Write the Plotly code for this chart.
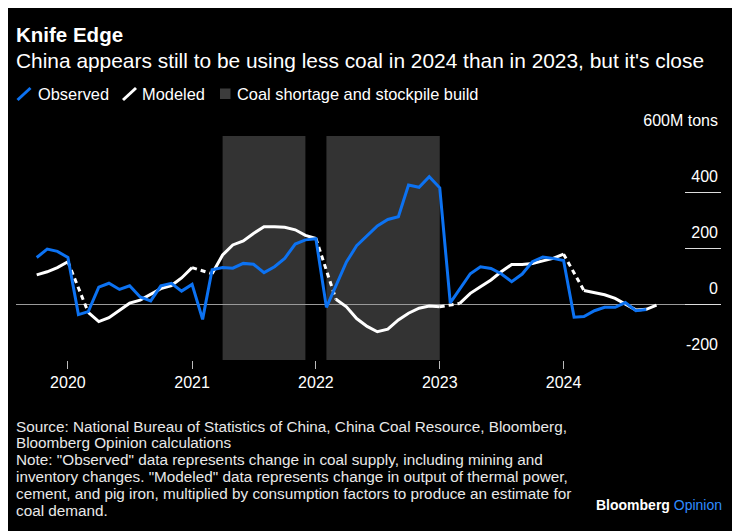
import plotly.graph_objects as go

# ---------------- data ----------------
months = [f"{y}-{m:02d}-01" for y in range(2019, 2025) for m in range(1, 13)]
months = [d for d in months if "2019-10-01" <= d <= "2024-10-01"]

observed = [
    166, 196, 188,                                                   # 2019 Oct-Dec
    166, -38, -27, 60, 74, 52, 65, 25, 11, 65, 74, 46,               # 2020
    70, -55, 122, 130, 128, 145, 142, 112, 133, 163, 214, 229,       # 2021
    233, -12, 65, 150, 208, 246, 279, 302, 312, 425, 417, 455,       # 2022
    415, 4, 55, 108, 133, 127, 108, 80, 107, 151, 168, 163,          # 2023
    155, -47, -45, -24, -12, -12, 5, -24, -20, None,                 # 2024
]

modeled = [
    104, 115, 130,
    151, None, -30, -63, -49, -22, 3, 14, 36, 55, 66, 93,
    130, None, 108, 175, 211, 225, 252, 276, 276, 274, 265, 245,
    234, None, 17, -10, -52, -80, -99, -90, -57, -33, -15, -7,
    -10, None, 2, 38, 62, 86, 115, 141, 141, 145, 154, 163,
    178, None, 48, 39, 33, 20, 1, -21, -19, -4,
]

year_ticks = ["2020-01-01", "2021-01-01", "2022-01-01", "2023-01-01", "2024-01-01"]
year_labels = ["2020", "2021", "2022", "2023", "2024"]
y_ticks = [-200, 0, 200, 400, 600]
y_labels = ["-200", "0", "200", "400", "600M tons"]

shortage_periods = [("2021-04-01", "2021-12-01"), ("2022-02-01", "2023-01-01")]

# dashed bridges across missing (February) modeled values
bridge_x, bridge_y = [], []
for i, v in enumerate(modeled):
    if v is None and 0 < i < len(modeled) - 1:
        bridge_x += [months[i - 1], months[i + 1], None]
        bridge_y += [modeled[i - 1], modeled[i + 1], None]

# ---------------- styling ----------------
BLUE = "#0c72f2"
WHITE = "#ffffff"
SHADE = "#333333"
FONT = "Liberation Sans, Arial, sans-serif"

OFF = 8                      # page body margin
W, H = 740 - OFF, 531 - OFF
L, R, T, B = 16 - OFF, 721 - OFF, 136 - OFF, 360 - OFF


def px(x):
    return (x - OFF - L) / (R - L)


def py(y):
    return (B - (y - OFF)) / (B - T)


fig = go.Figure()

fig.add_trace(go.Scatter(x=months, y=modeled, mode="lines",
                         line=dict(color=WHITE, width=3), connectgaps=False,
                         hoverinfo="skip", showlegend=False))
fig.add_trace(go.Scatter(x=bridge_x, y=bridge_y, mode="lines",
                         line=dict(color=WHITE, width=3, dash="5px,4px"),
                         hoverinfo="skip", showlegend=False))
fig.add_trace(go.Scatter(x=months, y=observed, mode="lines",
                         line=dict(color=BLUE, width=3),
                         hoverinfo="skip", showlegend=False))

shapes = []
for x0, x1 in shortage_periods:
    shapes.append(dict(type="rect", xref="x", yref="paper", x0=x0, x1=x1, y0=0, y1=1,
                       fillcolor=SHADE, line=dict(width=0), layer="below"))

# legend icons
shapes.append(dict(type="line", xref="paper", yref="paper",
                   x0=px(17.5), y0=py(100), x1=px(30.5), y1=py(88),
                   line=dict(color=BLUE, width=3)))
shapes.append(dict(type="line", xref="paper", yref="paper",
                   x0=px(123), y0=py(100), x1=px(136), y1=py(88),
                   line=dict(color=WHITE, width=3)))
shapes.append(dict(type="rect", xref="paper", yref="paper",
                   x0=px(220), y0=py(99), x1=px(230.5), y1=py(88.5),
                   fillcolor="#3c3c3c", line=dict(width=0)))

annotations = []


def text(x, y, s, size, color="#ffffff", xanchor="left", bold=False):
    annotations.append(dict(xref="paper", yref="paper", x=px(x), y=py(y), text=s,
                            showarrow=False, xanchor=xanchor, yanchor="middle",
                            align=xanchor,
                            font=dict(family=FONT, size=size, color=color,
                                      weight="bold" if bold else "normal")))


text(14, 35, "Knife Edge", 20.5, bold=True)
text(14, 60, "China appears still to be using less coal in 2024 than in 2023, but it's close", 20.9)
text(36, 94, "Observed", 16.4)
text(140, 94, "Modeled", 16.4)
text(235, 94, "Coal shortage and stockpile build", 16.4)

footer = [
    "Source: National Bureau of Statistics of China, China Coal Resource, Bloomberg,",
    "Bloomberg Opinion calculations",
    "Note: \"Observed\" data represents change in coal supply, including mining and",
    "inventory changes. \"Modeled\" data represents change in output of thermal power,",
    "cement, and pig iron, multiplied by consumption factors to produce an estimate for",
    "coal demand.",
]
for k, line in enumerate(footer):
    text(14, 426 + k * 16.8, line, 15.3, color="#e8e8e8")

text(724, 505, "<b>Bloomberg</b> <span style='color:#2f8cff'>Opinion</span>", 14,
     xanchor="right")

fig.update_layout(
    width=W, height=H,
    margin=dict(l=L, r=W - R, t=T, b=H - B, pad=0),
    paper_bgcolor="#000000", plot_bgcolor="#000000",
    font=dict(family=FONT, color="#ffffff", size=16),
    shapes=shapes, annotations=annotations,
    showlegend=False,
    xaxis=dict(type="date", range=["2019-08-01", "2025-04-09"],
               tickmode="array", tickvals=year_ticks, ticktext=year_labels,
               ticks="outside", ticklen=8, tickwidth=1, tickcolor="#bbbbbb",
               showgrid=False, zeroline=False, showline=False,
               tickfont=dict(size=16, color="#ffffff"), ticklabelstandoff=0),
    yaxis=dict(range=[-200, 600], side="right",
               tickmode="array", tickvals=y_ticks, ticktext=y_labels,
               ticks="inside", ticklen=36, tickwidth=1, tickcolor="#dddddd",
               ticklabelposition="inside top", ticklabeloverflow="allow",
               ticklabelshift=-4,
               showgrid=False, zeroline=True, zerolinecolor="#9a9a9a", zerolinewidth=1,
               showline=False, tickfont=dict(size=16, color="#ffffff")),
)

fig.write_html("out.html")
